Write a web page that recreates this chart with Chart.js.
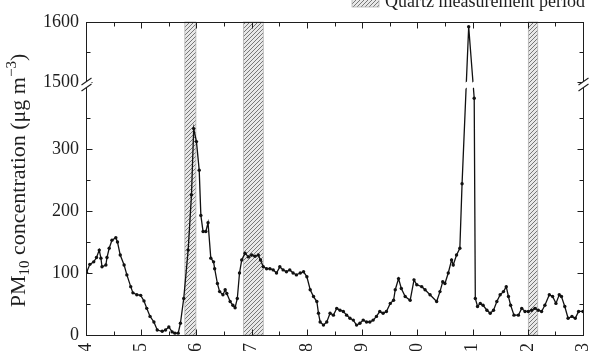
<!DOCTYPE html>
<html><head><meta charset="utf-8">
<script src="https://cdn.jsdelivr.net/npm/chart.js@4/dist/chart.umd.min.js"></script>
<style>html,body{margin:0;padding:0;background:#fff;overflow:hidden}canvas{display:block}</style>
</head><body><canvas id="c" width="592" height="351"></canvas>
<script>
// ---- data ----
const days = [4.01,4.07,4.14,4.19,4.24,4.27,4.29,4.36,4.38,4.42,4.47,4.54,4.57,4.62,4.69,4.74,4.81,4.85,4.92,4.99,
5.05,5.10,5.16,5.23,5.29,5.38,5.44,5.50,5.56,5.61,5.67,5.71,5.77,5.85,5.91,5.95,6.00,6.05,6.08,6.12,
6.17,6.21,6.26,6.31,6.33,6.38,6.42,6.48,6.52,6.55,6.61,6.66,6.70,6.74,6.78,6.82,6.88,6.94,7.00,7.06,
7.12,7.16,7.21,7.27,7.33,7.39,7.45,7.51,7.57,7.63,7.69,7.75,7.81,7.88,7.94,8.00,8.06,8.12,8.18,8.21,
8.24,8.30,8.36,8.42,8.48,8.54,8.60,8.66,8.72,8.78,8.84,8.90,8.96,9.02,9.08,9.14,9.20,9.26,9.32,9.38,
9.44,9.51,9.57,9.60,9.66,9.71,9.78,9.87,9.94,9.99,10.08,10.14,10.23,10.35,10.41,10.46,10.50,10.56,10.62,10.65,
10.71,10.77,10.81,10.93,11.03,11.05,11.09,11.14,11.19,11.26,11.32,11.38,11.44,11.50,11.56,11.61,11.65,11.69,11.75,11.83,
11.89,11.95,12.01,12.07,12.13,12.19,12.25,12.31,12.39,12.45,12.51,12.57,12.61,12.67,12.73,12.80,12.86,12.92,13.00];
const pm10 = [101,114,118,125,137,124,110,113,125,140,153,157,150,129,113,97,78,68,65,64,
55,43,30,21,8,6,8,13,5,3,3,19,59,137,226,333,312,266,193,167,
167,181,124,118,107,83,70,65,73,67,54,48,44,59,100,121,132,126,129,127,
129,121,110,107,107,105,100,110,105,102,105,100,97,100,102,94,73,62,54,35,
21,16,21,35,32,43,40,38,32,27,24,16,19,24,21,21,24,30,38,35,
38,51,56,73,91,75,62,56,89,81,78,73,65,54,70,86,83,100,121,113,
129,140,244,1592,382,59,46,51,48,40,35,40,54,65,70,78,62,48,32,32,
43,38,38,40,43,40,38,48,65,62,51,65,62,46,27,30,27,38,38];
const quartzStart = [5.79, 6.85, 12.01];
const quartzEnd   = [5.99, 7.21, 12.18];
const xTickDays   = [4,5,6,7,8,9,10,11,12,13];
const xTickLabels = ['4','5','6','7','8','9','10','11','12','13'];
const xMinorDays  = [4.5,5.5,6.5,7.5,8.5,9.5,10.5,11.5,12.5];
const yTickValues = [0,100,200,300,1500,1600];
const yTickLabels = ['0','100','200','300','1500','1600'];
const yMinorValues = [50,150,250,350,1550];
const legendLabel = 'Quartz measurement period';

// broken axis: lower segment 0..~400, upper segment 1500..1600
const BREAK_LOW = 400, BREAK_HIGH = 1500, UPPER_START = 408, UPPER_SCALE = 0.97;
function toAxis(v){ return v <= 1000 ? v : UPPER_START + (v - BREAK_HIGH) * UPPER_SCALE; }
const breakAxisValue = (BREAK_LOW + UPPER_START) / 2 + 1;

const FONT = "'Liberation Serif','Times New Roman',serif";
const INK = '#1e1e1e';

function makeHatch(ctx){
  const c = document.createElement('canvas'); c.width = 4; c.height = 4;
  const g = c.getContext('2d');
  g.fillStyle = '#e8e8e8'; g.fillRect(0,0,4,4);
  g.strokeStyle = '#6a6a6a'; g.lineWidth = 0.9;
  g.beginPath();
  g.moveTo(0,4); g.lineTo(4,0);
  g.moveTo(-1,1); g.lineTo(1,-1);
  g.moveTo(3,5); g.lineTo(5,3);
  g.stroke();
  return ctx.createPattern(c,'repeat');
}

const decor = {
  id: 'decor',
  beforeDatasetsDraw(chart){
    const {ctx, chartArea: a, scales: {x}} = chart;
    ctx.save();
    const pat = makeHatch(ctx);
    for (let i = 0; i < quartzStart.length; i++){
      const x1 = x.getPixelForValue(quartzStart[i]);
      const x2 = x.getPixelForValue(quartzEnd[i]);
      ctx.fillStyle = pat;
      ctx.fillRect(x1, a.top, x2 - x1, a.bottom - a.top);
      ctx.strokeStyle = '#b4b4b4'; ctx.lineWidth = 0.8;
      ctx.strokeRect(x1, a.top, x2 - x1, a.bottom - a.top);
    }
    ctx.restore();
  },
  afterDatasetsDraw(chart){
    const {ctx, chartArea: a, scales: {x, y}} = chart;
    const yb = y.getPixelForValue(breakAxisValue);
    ctx.save();
    // gaps in data line where it crosses the axis break
    const pts = chart.getDatasetMeta(0).data;
    ctx.fillStyle = '#fff';
    for (let i = 0; i < pts.length - 1; i++){
      const p = pts[i], q = pts[i+1];
      if ((p.y - yb) * (q.y - yb) < 0){
        const t = (yb - p.y) / (q.y - p.y);
        const xc = p.x + t * (q.x - p.x);
        ctx.beginPath();
        ctx.moveTo(xc - 5, yb + 1); ctx.lineTo(xc + 5, yb - 5);
        ctx.lineTo(xc + 5, yb + 1); ctx.lineTo(xc - 5, yb + 7);
        ctx.closePath(); ctx.fill();
      }
    }
    // frame
    const L = Math.round(a.left) + 0.5, R = Math.round(a.right) + 0.5;
    const T = Math.round(a.top) + 0.5, B = Math.round(a.bottom) + 0.5;
    ctx.strokeStyle = INK; ctx.lineWidth = 1;
    ctx.strokeRect(L, T, R - L, B - T);
    ctx.beginPath();
    const xt = (v, len) => { const px = Math.round(x.getPixelForValue(v)) + 0.5;
      ctx.moveTo(px, B); ctx.lineTo(px, B - len); ctx.moveTo(px, T); ctx.lineTo(px, T + len); };
    const yt = (v, len) => { const py = Math.round(y.getPixelForValue(toAxis(v))) + 0.5;
      ctx.moveTo(L, py); ctx.lineTo(L + len, py); ctx.moveTo(R, py); ctx.lineTo(R - len, py); };
    xTickDays.forEach(v => xt(v, 6));
    xMinorDays.forEach(v => xt(v, 4));
    yTickValues.forEach(v => yt(v, 6));
    yMinorValues.forEach(v => yt(v, 4));
    ctx.stroke();
    // break marks on both vertical axes
    [L, R].forEach(ax => {
      ctx.fillStyle = '#fff';
      ctx.beginPath();
      ctx.moveTo(ax - 5, yb + 1); ctx.lineTo(ax + 5, yb - 6);
      ctx.lineTo(ax + 5, yb); ctx.lineTo(ax - 5, yb + 7);
      ctx.closePath(); ctx.fill();
      ctx.beginPath();
      ctx.moveTo(ax - 5, yb + 1); ctx.lineTo(ax + 5, yb - 6);
      ctx.moveTo(ax - 5, yb + 7); ctx.lineTo(ax + 5, yb);
      ctx.lineWidth = 1.1; ctx.strokeStyle = INK; ctx.stroke();
    });
    ctx.restore();
  },
  afterDraw(chart){
    const {ctx, chartArea: a} = chart;
    ctx.save();
    // legend (partly above the canvas top, as in the reference)
    ctx.fillStyle = makeHatch(ctx);
    ctx.fillRect(352, -6, 27, 13);
    ctx.strokeStyle = '#b4b4b4'; ctx.lineWidth = 0.8; ctx.strokeRect(352, -6, 27, 13);
    ctx.fillStyle = INK; ctx.font = '18px ' + FONT; ctx.textBaseline = 'alphabetic'; ctx.textAlign = 'left';
    ctx.fillText(legendLabel, 385, 6.5);
    // y title with subscript / superscript
    const parts = [
      {t:'PM', s:22, dy:0},
      {t:'10', s:15, dy:4},
      {t:' concentration (\u03bcg m', s:22, dy:0},
      {t:'\u22123', s:15, dy:-9},
      {t:')', s:22, dy:0}
    ];
    let w = 0;
    parts.forEach(p => { ctx.font = p.s + 'px ' + FONT; p.w = ctx.measureText(p.t).width; w += p.w; });
    ctx.translate(25, (a.top + a.bottom) / 2 + 2);
    ctx.rotate(-Math.PI / 2);
    let cx = -w / 2;
    parts.forEach(p => { ctx.font = p.s + 'px ' + FONT; ctx.fillText(p.t, cx, p.dy); cx += p.w; });
    ctx.restore();
  }
};

new Chart(document.getElementById('c'), {
  type: 'line',
  data: {
    datasets: [{
      data: days.map((d, i) => ({x: d, y: toAxis(pm10[i])})),
      borderColor: '#111', borderWidth: 1.3,
      pointRadius: 1.7, pointBackgroundColor: '#111', pointBorderWidth: 0,
      pointStyle: 'circle', tension: 0, fill: false
    }]
  },
  options: {
    responsive: false, animation: false, devicePixelRatio: 1,
    layout: {padding: {top: 22, right: 9, left: 0, bottom: 0}},
    plugins: {legend: {display: false}, tooltip: {enabled: false}},
    scales: {
      x: {
        type: 'linear', min: 4, max: 13,
        grid: {display: false, drawTicks: false}, border: {display: false},
        afterBuildTicks: s => { s.ticks = xTickDays.map(v => ({value: v})); },
        afterFit: s => { s.height = 16; s.paddingLeft = 0; s.paddingRight = 0; },
        ticks: {
          autoSkip: false, minRotation: 90, maxRotation: 90, padding: 8,
          color: INK, font: {family: FONT, size: 18},
          callback: v => { const i = xTickDays.indexOf(v); return i >= 0 ? xTickLabels[i] : ''; }
        }
      },
      y: {
        type: 'linear', min: 0, max: toAxis(1600),
        grid: {display: false, drawTicks: false}, border: {display: false},
        afterBuildTicks: s => { s.ticks = yTickValues.map(v => ({value: toAxis(v)})); },
        afterFit: s => { s.width = 86; s.paddingTop = 0; s.paddingBottom = 0; },
        ticks: {
          padding: 7, color: INK, font: {family: FONT, size: 18},
          callback: v => { const i = yTickValues.findIndex(t => Math.abs(toAxis(t) - v) < 1e-6); return i >= 0 ? yTickLabels[i] : ''; }
        }
      }
    }
  },
  plugins: [decor]
});
</script>
</body></html>
